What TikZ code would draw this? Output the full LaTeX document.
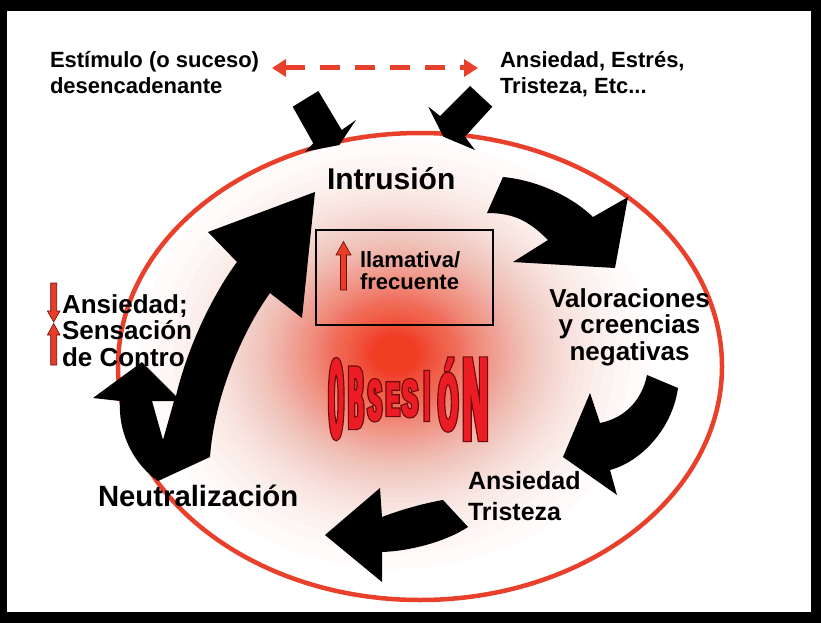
\documentclass[tikz,border=0pt]{standalone}
\usepackage{fontspec}
\setmainfont{Liberation Sans}
\usepackage{graphicx}
\usetikzlibrary{arrows.meta}
\definecolor{ellred}{RGB}{232,64,42}
\definecolor{glowc}{RGB}{240,62,34}
\definecolor{obsred}{RGB}{236,28,36}
\definecolor{obsdark}{RGB}{110,10,10}
\definecolor{arrred}{RGB}{232,62,40}
\newcommand\mylines[2]{\begin{tabular}[t]{@{}#1@{}}#2\end{tabular}}
% slot width, raise, size, stretch, fakebold, letter
\newcommand\oL[6]{\makebox[#1pt][c]{\raisebox{#2pt}{\fontsize{#3}{#3}\selectfont\addfontfeatures{FakeStretch=#4,FakeBold=#5}#6}}}
\tikzset{
  txt/.style={inner sep=0pt, outer sep=0pt, anchor=base west, text=black},
  blockarrow/.style={fill=black},
  redarrow/.style={fill=arrred, draw=obsdark, line width=0.6pt},
  obs/.style={font=\bfseries, inner sep=0pt, outer sep=0pt, anchor=base west},
}
\begin{document}
\begin{tikzpicture}[x=1pt,y=-1pt]
\useasboundingbox (0,0) rectangle (821,623);
\fill[black] (0,0) rectangle (821,623);
\fill[white] (7,11) rectangle (811,612);
% glow
\begin{scope}
  \clip (420,366.5) ellipse [x radius=302, y radius=233.5];
  \foreach \k in {3,...,149}{%
    \fill[glowc, opacity=0.0211] (395,354) ellipse [x radius={65*ln(150/\k)}, y radius={55*ln(150/\k)}];}
\end{scope}
\draw[ellred, line width=4.5pt] (420,366.5) ellipse [x radius=302, y radius=233.5];

% texts
\node[txt, font=\bfseries\fontsize{22}{26}\selectfont] (estimulo) at (50,68) {\mylines{l}{Estímulo (o suceso)\\desencadenante}};
\node[txt, font=\bfseries\fontsize{22}{26}\selectfont] (emociones) at (500,68) {\mylines{l}{Ansiedad, Estrés,\\Tristeza, Etc...}};
\node[txt, font=\bfseries\fontsize{30}{34}\selectfont] (intrusion) at (327,189) {Intrusión};
\node[txt, anchor=base, font=\bfseries\fontsize{26}{26}\selectfont] (valoraciones) at (629.5,307) {\mylines{c}{Valoraciones\\y creencias\\negativas}};
\node[txt, font=\bfseries\fontsize{25}{31}\selectfont] (ansiedad) at (468,489) {\mylines{l}{Ansiedad\\Tristeza}};
\node[txt, font=\bfseries\fontsize{29.3}{34}\selectfont] (neutral) at (98,506) {Neutralización};
\node[txt, font=\bfseries\fontsize{26}{26}\selectfont] (control) at (62,313) {\mylines{l}{Ansiedad;\\Sensación\\de Contro}};
\node[txt, font=\bfseries\fontsize{22}{21.5}\selectfont] (llamativa) at (360,267) {\mylines{l}{llamativa/\\frecuente}};

% box
\node[draw=black, line width=2.5pt, minimum width=177pt, minimum height=95pt, inner sep=0pt] (box) at (404.5,277.5) {};

% red small arrows
\draw[redarrow] (340.5,290) -- (340.5,255) -- (336,255) -- (343.5,241.5) -- (351,255) -- (346.5,255) -- (346.5,290) -- cycle;
\draw[redarrow] (50.7,283) -- (56.7,283) -- (56.7,311) -- (60,311) -- (53.7,322) -- (47.4,311) -- (50.7,311) -- cycle;
\draw[redarrow] (50.7,365) -- (50.7,335) -- (47.4,335) -- (53.7,323.5) -- (60,335) -- (56.7,335) -- (56.7,365) -- cycle;

% dashed double arrow
\coordinate (dl) at (272,68);
\coordinate (dr) at (478,68);
\draw[ellred, line width=5pt, dash pattern=on 20pt off 15pt, {Triangle[length=14pt,width=17pt]}-{Triangle[length=14pt,width=17pt]}] (dl) -- (dr);

% black block arrows
\fill[blockarrow] (292.7,106.7) -- (318.3,91) -- (341.7,130) -- (356,120) -- (339.3,145) -- (305,151.7) -- (313.3,143.3) -- cycle;
\fill[blockarrow] (470,86) -- (492.3,106.7) -- (465,136.7) -- (475,150) -- (443.3,136.7) -- (428.3,106.7) -- (440,116) -- cycle;
\fill[blockarrow] (503,177) .. controls (535,180) and (570,195) .. (593,217) -- (628,197) -- (615,268) -- (513,262) -- (548,240) .. controls (530,222) and (515,213) .. (487,213) -- cycle;
\fill[blockarrow] (647,375) .. controls (642,400) and (625,418) .. (600,423) -- (590,393) -- (563,457) -- (617,495) -- (610,470) .. controls (640,462) and (672,430) .. (678,388) -- cycle;
\fill[blockarrow] (443,500) .. controls (425,503) and (400,510) .. (382,517) -- (380,488) -- (325,535) -- (382,582) -- (382,552) .. controls (410,551) and (445,542) .. (468,527) -- cycle;
\fill[blockarrow, even odd rule] (158,481) -- (210,457) .. controls (214,400) and (240,335) .. (270,293) -- (302,318) -- (315,192) -- (208,232) -- (237,262) .. controls (214,293) and (188,345) .. (176,396) -- (142,362) -- (93,398) -- (120,401) .. controls (118,435) and (135,465) .. (158,481) -- cycle
  (152,401) -- (174,401) -- (163,440) -- cycle;

% OBSESION (dark outline layer, then red layer)
\node[obs, text=obsdark] (obsout) at (326,437.7) {%
\oL{20.5}{0}{112.3}{0.158}{4.10}{O}\oL{19.25}{10}{87.2}{0.229}{5.28}{B}\oL{18}{18}{56.4}{0.349}{8.16}{S}\oL{18}{23}{45.3}{0.425}{10.15}{E}%
\oL{16.25}{22}{50.8}{0.455}{9.06}{S}\oL{17.5}{18}{69}{0.23}{6.67}{I}\oL{25.25}{8}{80}{0.31}{5.75}{Ó}\oL{29.25}{-2}{117.9}{0.298}{3.90}{N}};
\node[obs, text=obsred] (obsword) at (326,437.7) {%
\oL{20.5}{0}{112.3}{0.158}{1.96}{O}\oL{19.25}{10}{87.2}{0.229}{2.52}{B}\oL{18}{18}{56.4}{0.349}{3.90}{S}\oL{18}{23}{45.3}{0.425}{4.86}{E}%
\oL{16.25}{22}{50.8}{0.455}{4.33}{S}\oL{17.5}{18}{69}{0.23}{3.19}{I}\oL{25.25}{8}{80}{0.31}{2.75}{Ó}\oL{29.25}{-2}{117.9}{0.298}{1.87}{N}};
\end{tikzpicture}
\end{document}
